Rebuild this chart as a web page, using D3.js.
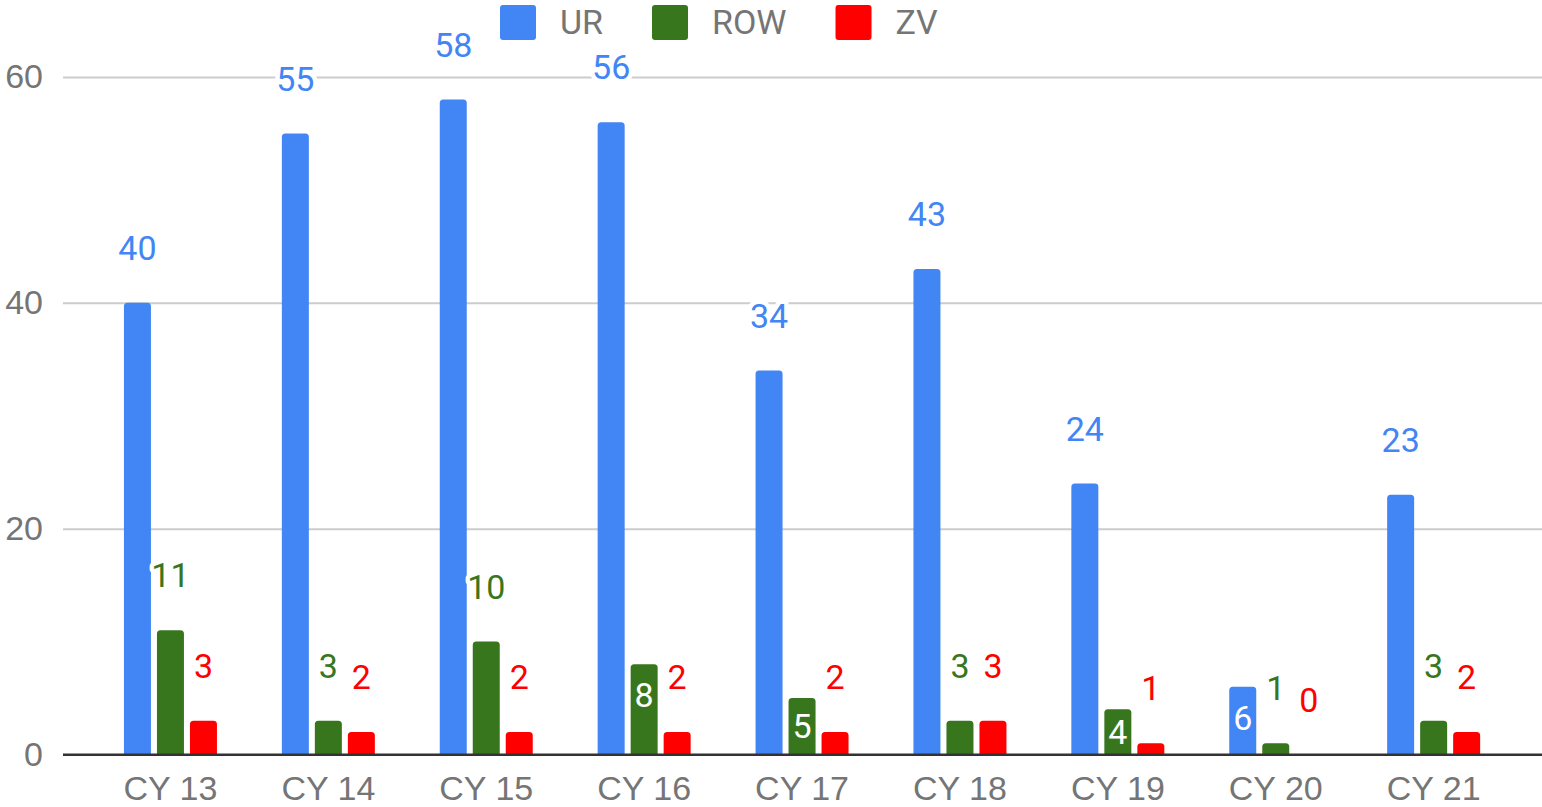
<!DOCTYPE html>
<html>
<head>
<meta charset="utf-8">
<script src="https://cdn.jsdelivr.net/npm/d3@7"></script>
<style>
  body { margin: 0; background: #fff; }
  svg { display: block; font-family: Roboto, "Noto Sans", sans-serif; }
</style>
</head>
<body>
<svg id="chart" width="1542" height="807"></svg>
<script>
// data
var categories = ["CY 13", "CY 14", "CY 15", "CY 16", "CY 17", "CY 18", "CY 19", "CY 20", "CY 21"];
var series = ["UR", "ROW", "ZV"];
var ur = [40, 55, 58, 56, 34, 43, 24, 6, 23];
var row = [11, 3, 10, 8, 5, 3, 4, 1, 3];
var zv = [3, 2, 2, 2, 2, 3, 1, 0, 2];
var yTicks = [0, 20, 40, 60];
// labels that sit inside their bar, in white
var insideLabels = [["CY 16", "ROW"], ["CY 17", "ROW"], ["CY 19", "ROW"], ["CY 20", "UR"]];

var colors = { UR: "#4285f4", ROW: "#38761d", ZV: "#ff0000" };
var values = { UR: ur, ROW: row, ZV: zv };

var svg = d3.select("#chart");
var gridLeft = 63, gridRight = 1542;

var y = d3.scaleLinear()
    .domain([0, 60])
    .range([754.5, 77]);

var x = d3.scaleBand()
    .domain(categories)
    .range([91.5, 1512.6])
    .padding(0);

var groupWidth = 93;
var xInner = d3.scaleBand()
    .domain(series)
    .range([0, groupWidth])
    .paddingInner(6 / 33);

function groupLeft(c) {
    return x(c) + x.bandwidth() / 2 - groupWidth / 2;
}

// grid lines + y labels
var yAxis = svg.append("g")
    .attr("transform", "translate(" + gridLeft + ",0)")
    .call(d3.axisLeft(y).tickValues(yTicks).tickSize(-(gridRight - gridLeft)).tickPadding(20));
yAxis.select(".domain").remove();
yAxis.selectAll("line")
    .attr("stroke", function (d) { return d === 0 ? "#333333" : "#cccccc"; })
    .attr("stroke-width", 2);
yAxis.selectAll("text")
    .attr("fill", "#757575")
    .style("font-size", "34px");

// rows for each bar
var rows = [];
categories.forEach(function (c, i) {
    series.forEach(function (s) {
        rows.push({ cat: c, key: s, value: values[s][i] });
    });
});

function isInside(d) {
    return insideLabels.some(function (p) { return p[0] === d.cat && p[1] === d.key; });
}

// bar with rounded top corners
function barPath(x0, y0, w, h, r) {
    if (h <= 0) return "";
    r = Math.min(r, h, w / 2);
    var p = d3.path();
    p.moveTo(x0, y0 + h);
    p.lineTo(x0, y0 + r);
    p.arcTo(x0, y0, x0 + r, y0, r);
    p.lineTo(x0 + w - r, y0);
    p.arcTo(x0 + w, y0, x0 + w, y0 + r, r);
    p.lineTo(x0 + w, y0 + h);
    p.closePath();
    return p.toString();
}

svg.append("g")
    .selectAll("path")
    .data(rows)
    .enter()
    .append("path")
    .attr("fill", function (d) { return colors[d.key]; })
    .attr("d", function (d) {
        return barPath(groupLeft(d.cat) + xInner(d.key), y(d.value), xInner.bandwidth(), y(0) - y(d.value), 3.5);
    });

// baseline drawn over bars
svg.append("line")
    .attr("x1", gridLeft).attr("x2", gridRight)
    .attr("y1", y(0)).attr("y2", y(0))
    .attr("stroke", "#333333")
    .attr("stroke-width", 2);

// x labels
var xAxis = svg.append("g")
    .attr("transform", "translate(0," + y(0) + ")")
    .call(d3.axisBottom(x).tickSize(0).tickPadding(21.5));
xAxis.select(".domain").remove();
xAxis.selectAll("text")
    .attr("fill", "#757575")
    .style("font-size", "34px");

// value labels
svg.append("g")
    .selectAll("text")
    .data(rows)
    .enter()
    .append("text")
    .attr("text-anchor", "middle")
    .attr("dy", "0.355em")
    .style("font-size", "34px")
    .attr("x", function (d) { return groupLeft(d.cat) + xInner(d.key) + xInner.bandwidth() / 2; })
    .attr("y", function (d) {
        if (isInside(d)) return Math.min(y(d.value) + 31, (y(d.value) + y(0)) / 2);
        return y(d.value) - 55;
    })
    .attr("fill", function (d) { return isInside(d) ? "#ffffff" : colors[d.key]; })
    .attr("stroke", function (d) { return isInside(d) ? "none" : "#ffffff"; })
    .attr("stroke-width", 9)
    .attr("stroke-linejoin", "round")
    .attr("paint-order", "stroke")
    .text(function (d) { return d.value; });

// legend
var legend = svg.append("g");
var lx = 500;
series.forEach(function (s) {
    legend.append("rect")
        .attr("x", lx).attr("y", 5)
        .attr("width", 36).attr("height", 35)
        .attr("rx", 3)
        .attr("fill", colors[s]);
    var t = legend.append("text")
        .attr("x", lx + 60).attr("y", 34)
        .attr("fill", "#757575")
        .style("font-size", "34px")
        .text(s);
    lx += 60 + t.node().getComputedTextLength() + 49;
});
</script>
</body>
</html>
